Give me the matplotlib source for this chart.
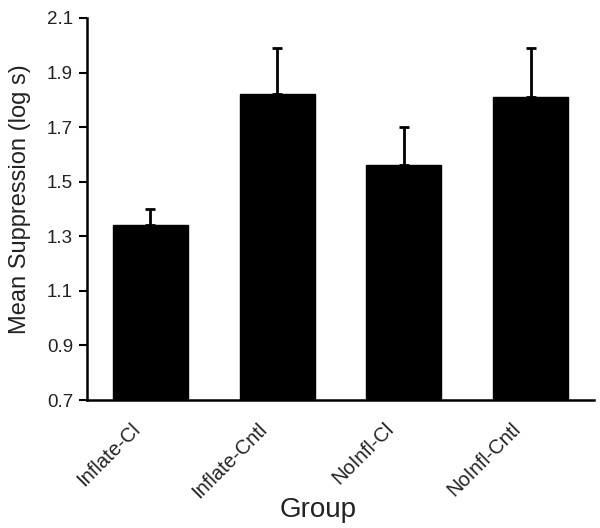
import matplotlib
matplotlib.use("Agg")
import matplotlib.pyplot as plt
import matplotlib.transforms as mtransforms
import numpy as np

plt.rcParams['font.family'] = ['Liberation Sans', 'DejaVu Sans']

groups = ["Inflate-Cl", "Inflate-Cntl", "NoInfl-Cl", "NoInfl-Cntl"]
means = [1.34, 1.82, 1.56, 1.81]
errors = [0.06, 0.17, 0.14, 0.18]
yticks = [0.7, 0.9, 1.1, 1.3, 1.5, 1.7, 1.9, 2.1]

fig = plt.figure(figsize=(6, 5.28), dpi=100)
ax = fig.add_axes([0.145, 0.2424, 0.845, 0.7236])

x = np.arange(len(groups))
ax.bar(x, means, width=0.59, color='black', edgecolor='black', zorder=2)
ax.errorbar(x, means, yerr=[np.zeros(len(errors)), errors], fmt='none',
            ecolor='black', elinewidth=2, capsize=3.5, capthick=2, zorder=3)

ax.set_xlim(-0.5, 3.5)
ax.set_ylim(0.7, 2.1)
ax.set_yticks(yticks)
ax.set_yticklabels([f"{t:.1f}" for t in yticks], fontsize=13.5, color='#222222')
ax.set_xticks(x)
ax.set_xticklabels(groups, rotation=45, ha='right', rotation_mode='anchor',
                   fontsize=14.5, color='#222222')
ax.tick_params(axis='x', length=0, pad=14)
ax.tick_params(axis='y', length=6, width=1.5, direction='out', pad=4)
offset = mtransforms.ScaledTranslation(-20 / 100, 0, fig.dpi_scale_trans)
for lbl in ax.get_xticklabels():
    lbl.set_transform(lbl.get_transform() + offset)

for s in ['top', 'right']:
    ax.spines[s].set_visible(False)
for s in ['left', 'bottom']:
    ax.spines[s].set_linewidth(1.8)

ax.set_ylabel("Mean Suppression (log s)", fontsize=17, color='#222222')
ax.yaxis.set_label_coords(-0.11, 0.526)
ax.set_xlabel("Group", fontsize=20, color='#222222')
ax.xaxis.set_label_coords(0.455, -0.255)

fig.savefig("out.png", dpi=100)
